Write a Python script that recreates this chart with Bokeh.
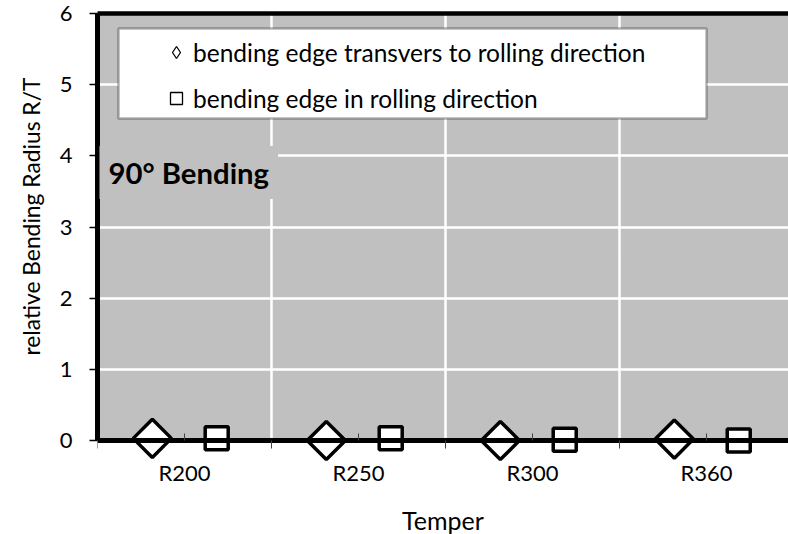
import numpy as np
import pandas as pd
from bokeh.plotting import figure
from bokeh.models import (ColumnDataSource, FixedTicker, LinearAxis, Range1d, Legend,
                          LegendItem, BoxAnnotation, Label, Title)
from bokeh.transform import dodge
from bokeh.embed import file_html
from bokeh.resources import INLINE

# ---- data ----
tempers = ["R200", "R250", "R300", "R360"]
transverse = [0.03, 0.0, 0.0, 0.02]   # bending edge transvers to rolling direction
rolling = [0.03, 0.03, 0.01, 0.0]     # bending edge in rolling direction
y_ticks = [0, 1, 2, 3, 4, 5, 6]

FONT = "Lato"
GRAY = "#C0C0C0"

pos = np.arange(len(tempers)) + 0.5
src = ColumnDataSource(pd.DataFrame({"pos": pos, "temper": tempers,
                                     "transverse": transverse, "rolling": rolling}))

X_END = 3.971
Y_LOW = -1.3208   # frame continues below zero so markers and labels under the axis are not clipped

p = figure(width=788, height=534, output_backend="svg", toolbar_location=None,
           x_range=Range1d(0, X_END), y_range=Range1d(Y_LOW, 6),
           min_border_left=97, min_border_right=0, min_border_top=13, min_border_bottom=0)
p.background_fill_color = "white"
p.border_fill_color = "white"
p.outline_line_color = None

# gray plot area above zero
area = BoxAnnotation(bottom=0, fill_color=GRAY, fill_alpha=1.0, line_color=None, level="image")
p.add_layout(area)

# grids
p.ygrid.ticker = FixedTicker(ticks=y_ticks)
p.ygrid.grid_line_color = "white"
p.ygrid.grid_line_width = 2.5
p.xgrid.ticker = FixedTicker(ticks=list(range(1, len(tempers))))
p.xgrid.grid_line_color = "white"
p.xgrid.grid_line_width = 2.5

# x axis (drawn at y = 0)
xa = p.xaxis[0]
xa.fixed_location = 0
xa.ticker = FixedTicker(ticks=list(pos), minor_ticks=list(range(len(tempers) + 1)))
xa.major_label_overrides = {float(v): t for v, t in zip(pos, tempers)}
xa.axis_line_width = 5
xa.axis_line_color = "black"
xa.major_tick_in = 7
xa.major_tick_out = 0
xa.major_tick_line_color = "#404040"
xa.major_tick_line_width = 1
xa.minor_tick_in = 0
xa.minor_tick_out = 8
xa.minor_tick_line_color = "#404040"
xa.minor_tick_line_width = 1
xa.major_label_text_font = FONT
xa.major_label_text_font_size = "22px"
xa.major_label_text_color = "black"
xa.major_label_standoff = 10
xa.axis_label = "Temper"
xa.axis_label_text_font = FONT
xa.axis_label_text_font_size = "25px"
xa.axis_label_text_font_style = "normal"
xa.axis_label_text_color = "black"
xa.axis_label_standoff = 16

# y axis
ya = p.yaxis[0]
ya.bounds = (0, 6)
ya.ticker = FixedTicker(ticks=y_ticks)
ya.axis_line_width = 5
ya.axis_line_color = "black"
ya.major_tick_in = 0
ya.major_tick_out = 8
ya.major_tick_line_width = 1.5
ya.major_tick_line_color = "black"
ya.minor_tick_line_color = None
ya.major_label_text_font = FONT
ya.major_label_text_font_size = "22px"
ya.major_label_text_color = "black"
ya.major_label_standoff = 17

# y axis title (anchored from the bottom of the value range)
yt = Title(text="relative Bending Radius R/T", align="left", offset=179,
           text_font=FONT, text_font_size="22.8px", text_font_style="normal",
           text_color="black", standoff=24)
p.add_layout(yt, "left")

# top border line
top = LinearAxis(ticker=FixedTicker(ticks=[]), axis_line_width=4.5, axis_line_color="black",
                 major_tick_line_color=None, minor_tick_line_color=None,
                 major_label_text_font_size="0px")
p.add_layout(top, "above")

# data markers
p.scatter(x=dodge("pos", -0.185, range=p.x_range), y="transverse", source=src,
          marker="square", angle=np.pi / 4, size=27,
          fill_color="white", line_color="black", line_width=3.5)
p.scatter(x=dodge("pos", 0.185, range=p.x_range), y="rolling", source=src,
          marker="square", size=23,
          fill_color="white", line_color="black", line_width=3.5)

# legend (box + items)
box = BoxAnnotation(left=0.1207, right=3.5, top=5.789, bottom=4.524,
                    fill_color="white", fill_alpha=1.0, line_color="black", line_width=2.5)
p.add_layout(box)

lg_d = p.scatter(x=[np.nan], y=[np.nan], marker="diamond", fill_color="white",
                 line_color="black", line_width=1.3)
lg_s = p.scatter(x=[np.nan], y=[np.nan], marker="square", fill_color="white",
                 line_color="black", line_width=1.3)
legend = Legend(items=[LegendItem(label="bending edge transvers to rolling direction", renderers=[lg_d]),
                       LegendItem(label="bending edge in rolling direction", renderers=[lg_s])],
                location=(64, 421), border_line_color=None, background_fill_alpha=0,
                padding=0, margin=0, spacing=16, glyph_width=30, glyph_height=30,
                label_standoff=2, label_text_font=FONT, label_text_font_size="24.5px",
                label_text_color="black")
p.add_layout(legend)

lab = Label(x=0.0115, y=4.137, text="90° Bending", text_font=FONT, text_font_size="29.3px",
            text_font_style="bold", text_color="black", text_baseline="top", text_align="left",
            background_fill_color=GRAY, padding=9)
p.add_layout(lab)

open("out.html", "w").write(file_html(p, INLINE))
